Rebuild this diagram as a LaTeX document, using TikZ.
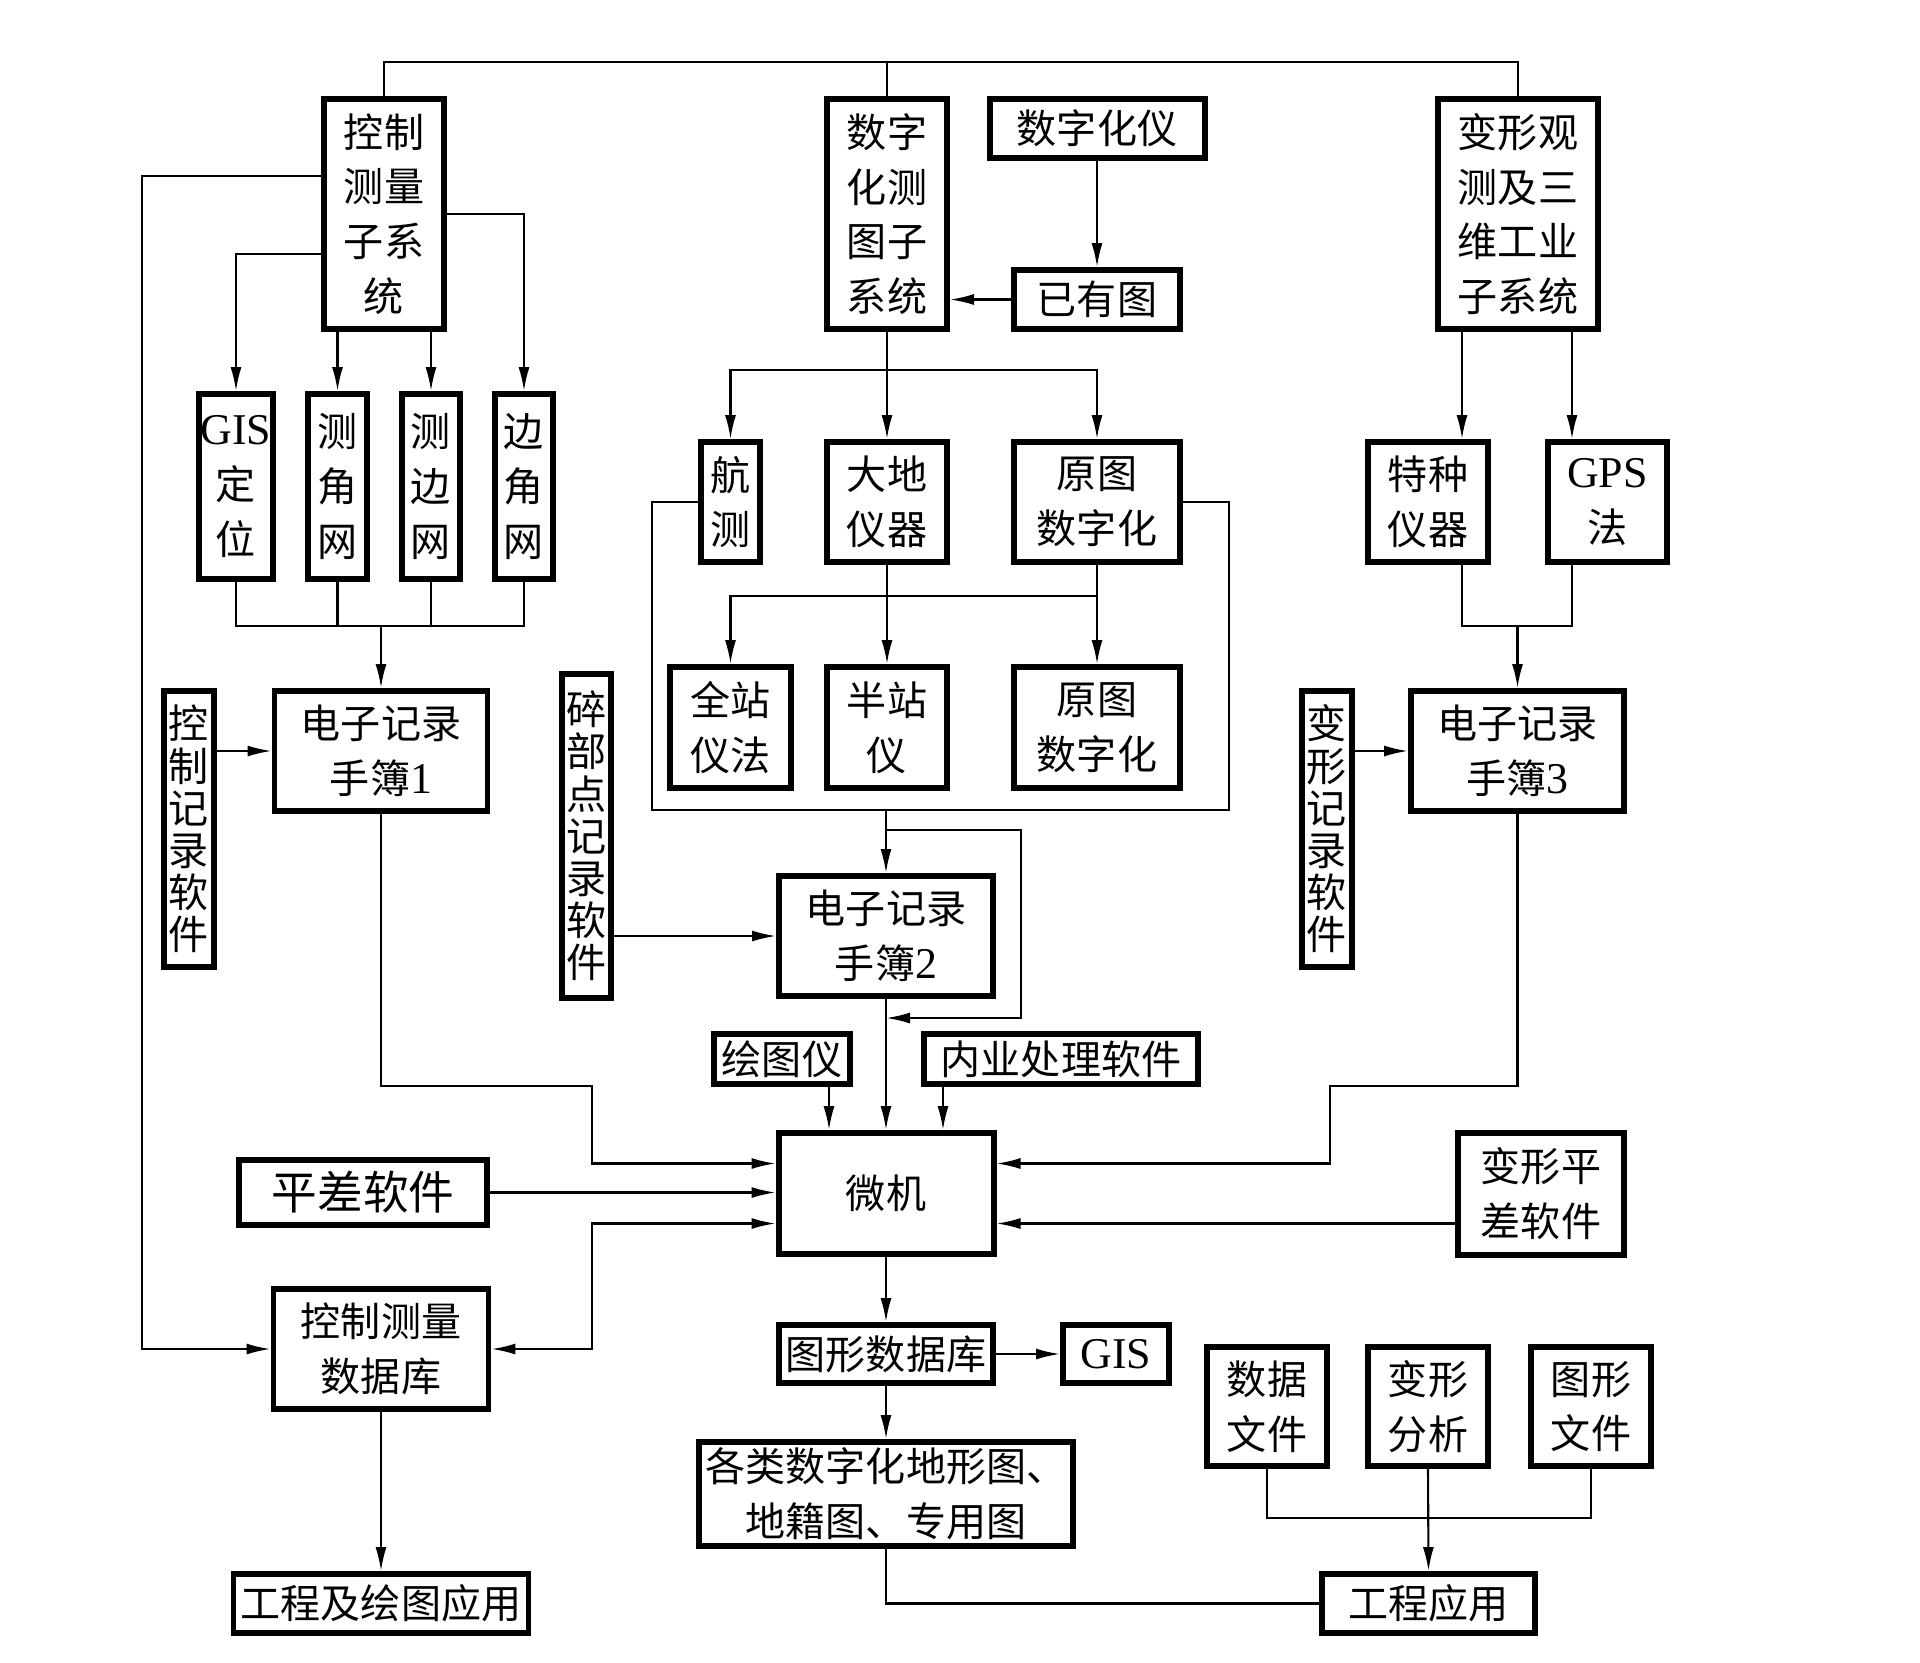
\documentclass[tikz,border=0pt]{standalone}
\usepackage{fontspec}
\setmainfont{Liberation Serif}
\newfontfamily\cjk{Noto Sans CJK SC}
\usepackage{tikz}
\usetikzlibrary{arrows.meta,positioning}
\newcommand{\latn}[1]{{\rmfamily\fontsize{12.5}{15.6}\selectfont #1}}

\begin{document}
\begin{tikzpicture}[
    box/.style={draw, line width=1.7pt, inner sep=0pt, align=center, font=\cjk\fontsize{11.4}{15.6}\selectfont},
    strip/.style={box, font=\cjk\fontsize{11.4}{12}\selectfont},
    wire/.style={line width=0.6pt},
    flow/.style={wire, -{Latex[length=2.4mm,width=1.1mm]}},
    both/.style={wire, {Latex[length=2.4mm,width=1.1mm]}-{Latex[length=2.4mm,width=1.1mm]}}
  ]
    \useasboundingbox (0,0) rectangle (19.2,-16.62);

    \node [box, minimum width=1.2cm, minimum height=2.3cm] (ctrl) at (3.84,-2.14) {控制\\测量\\子系\\统};
    \node [box, minimum width=1.2cm, minimum height=2.3cm] (digi) at (8.87,-2.14) {数字\\化测\\图子\\系统};
    \node [box, minimum width=2.15cm, minimum height=0.59cm] (digitizer) at (10.97,-1.285) {数字化仪};
    \node [box, minimum width=1.66cm, minimum height=0.59cm] (oldmap) at (10.97,-2.995) {已有图};
    \node [box, minimum width=1.6cm, minimum height=2.3cm] (deform) at (15.18,-2.14) {变形观\\测及三\\维工业\\子系统};

    \node [box, minimum width=0.74cm, minimum height=1.85cm] (gisloc) at (2.36,-4.865) {\latn{GIS}\\定\\位};
    \node [box, minimum width=0.59cm, minimum height=1.85cm] (angnet) at (3.375,-4.865) {测\\角\\网};
    \node [box, minimum width=0.58cm, minimum height=1.85cm] (distnet) at (4.31,-4.865) {测\\边\\网};
    \node [box, minimum width=0.58cm, minimum height=1.85cm] (bothnet) at (5.24,-4.865) {边\\角\\网};

    \node [box, minimum width=0.59cm, minimum height=1.2cm] (aerial) at (7.305,-5.02) {航\\测};
    \node [box, minimum width=1.2cm, minimum height=1.2cm] (geodetic) at (8.87,-5.02) {大地\\仪器};
    \node [box, minimum width=1.66cm, minimum height=1.2cm] (orig1) at (10.97,-5.02) {原图\\数字化};
    \node [box, minimum width=1.2cm, minimum height=1.2cm] (special) at (14.28,-5.02) {特种\\仪器};
    \node [box, minimum width=1.19cm, minimum height=1.2cm] (gps) at (16.075,-5.02) {\latn{GPS}\\法};

    \node [box, minimum width=1.21cm, minimum height=1.21cm] (total) at (7.305,-7.275) {全站\\仪法};
    \node [box, minimum width=1.2cm, minimum height=1.21cm] (semi) at (8.87,-7.275) {半站\\仪};
    \node [box, minimum width=1.66cm, minimum height=1.21cm] (orig2) at (10.97,-7.275) {原图\\数字化};

    \node [strip, minimum width=0.5cm, minimum height=2.76cm] (ctrlsw) at (1.89,-8.29) {控\\制\\记\\录\\软\\件};
    \node [box, minimum width=2.13cm, minimum height=1.2cm] (book1) at (3.81,-7.51) {电子记录\\手簿\latn{1}};
    \node [strip, minimum width=0.49cm, minimum height=3.24cm] (detailsw) at (5.865,-8.36) {碎\\部\\点\\记\\录\\软\\件};
    \node [box, minimum width=2.14cm, minimum height=1.2cm] (book2) at (8.86,-9.36) {电子记录\\手簿\latn{2}};
    \node [strip, minimum width=0.5cm, minimum height=2.76cm] (deformsw) at (13.27,-8.29) {变\\形\\记\\录\\软\\件};
    \node [box, minimum width=2.13cm, minimum height=1.2cm] (book3) at (15.175,-7.51) {电子记录\\手簿\latn{3}};

    \node [box, minimum width=1.36cm, minimum height=0.5cm] (plotter) at (7.82,-10.59) {绘图仪};
    \node [box, minimum width=2.74cm, minimum height=0.5cm] (officesw) at (10.61,-10.59) {内业处理软件};
    \node [box, minimum width=2.15cm, minimum height=1.21cm] (pc) at (8.86,-11.935) {微机};
    \node [box, minimum width=2.48cm, minimum height=0.65cm, font=\cjk\fontsize{13}{15.6}\selectfont] (adjsw) at (3.63,-11.925) {平差软件};
    \node [box, minimum width=1.66cm, minimum height=1.22cm] (defadj) at (15.41,-11.94) {变形平\\差软件};

    \node [box, minimum width=2.15cm, minimum height=1.2cm] (ctrldb) at (3.81,-13.49) {控制测量\\数据库};
    \node [box, minimum width=2.14cm, minimum height=0.58cm] (graphdb) at (8.86,-13.54) {图形数据库};
    \node [box, minimum width=1.06cm, minimum height=0.58cm, right=0.64cm of graphdb] (gis) {\latn{GIS}};
    \node [box, minimum width=3.74cm, minimum height=1.04cm] (maps) at (8.86,-14.94) {各类数字化地形图、\\地籍图、专用图};
    \node [box, minimum width=1.2cm, minimum height=1.19cm] (datafile) at (12.67,-14.065) {数据\\文件};
    \node [box, minimum width=1.2cm, minimum height=1.19cm] (defana) at (14.28,-14.065) {变形\\分析};
    \node [box, minimum width=1.2cm, minimum height=1.19cm] (graphfile) at (15.91,-14.065) {图形\\文件};
    \node [box, minimum width=2.95cm, minimum height=0.59cm] (engapp1) at (3.81,-16.035) {工程及绘图应用};
    \node [box, minimum width=2.13cm, minimum height=0.59cm] (engapp2) at (14.285,-16.035) {工程应用};

    % buses and turning points
    \coordinate (topbus) at (0,-0.62);
    \coordinate (netbus) at (0,-6.26);
    \coordinate (digibus) at (0,-3.70);
    \coordinate (rowbus) at (0,-5.96);
    \coordinate (filebus) at (0,-15.18);
    \coordinate (leftbus) at (1.42,0);
    \coordinate (loopl) at (6.52,-8.10);
    \coordinate (loopr) at (12.29,-8.10);
    \coordinate (fbtop) at (10.21,-8.30);
    \coordinate (fbbot) at (10.21,-10.18);
    \coordinate (xs) at (14.62,0);
    \coordinate (xg) at (15.72,0);
    \coordinate (b1turn) at (5.92,-10.86);
    \coordinate (b3turn) at (13.30,-10.86);
    \coordinate (dbturn) at (5.92,0);
    \coordinate (pcwu) at ([yshift=0.3cm]pc.west);
    \coordinate (pcwd) at ([yshift=-0.3cm]pc.west);
    \coordinate (pceu) at ([yshift=0.3cm]pc.east);
    \coordinate (pced) at ([yshift=-0.3cm]pc.east);
    \coordinate (plotin) at ([xshift=0.47cm]plotter.south);
    \coordinate (softin) at ([xshift=-1.18cm]officesw.south);

    \draw [wire] (ctrl.north) |- (topbus -| deform.north) -- (deform.north);
    \draw [wire] (digi.north) -- (digi.north |- topbus);

    \draw [flow] ([yshift=-0.4cm]ctrl.west) -| (gisloc.north);
    \draw [flow] (ctrl.south -| angnet) -- (angnet.north);
    \draw [flow] (ctrl.south -| distnet) -- (distnet.north);
    \draw [flow] (ctrl.east) -| (bothnet.north);
    \draw [wire] (gisloc.south) |- (netbus -| bothnet) -- (bothnet.south);
    \draw [wire] (angnet.south) -- (angnet.south |- netbus);
    \draw [wire] (distnet.south) -- (distnet.south |- netbus);
    \draw [flow] (book1.north |- netbus) -- (book1.north);
    \draw [flow] (ctrlsw.east |- book1.west) -- (book1.west);
    \draw [flow] ([yshift=0.38cm]ctrl.west) -| (leftbus |- ctrldb.west) -- (ctrldb.west);

    \draw [flow] (digitizer.south) -- (oldmap.north);
    \draw [flow] (oldmap.west) -- (oldmap.west -| digi.east);
    \draw [flow] (digi.south) -- (geodetic.north);
    \draw [flow] (digi.south |- digibus) -| (aerial.north);
    \draw [flow] (digi.south |- digibus) -| (orig1.north);
    \draw [flow] (geodetic.south) -- (semi.north);
    \draw [flow] (orig1.south) -- (orig2.north);
    \draw [flow] (orig1.south |- rowbus) -| (total.north);
    \draw [wire] (aerial.west) -| (loopl) -- (loopr) |- (orig1.east);
    \draw [flow] (book2.north |- loopl) -- (book2.north);
    \draw [flow] (book2.north |- fbtop) -- (fbtop) -- (fbbot) -- (fbbot -| book2.south);
    \draw [flow] (detailsw.east |- book2.west) -- (book2.west);

    \draw [flow] (deform.south -| xs) -- (special.north -| xs);
    \draw [flow] (deform.south -| xg) -- (gps.north -| xg);
    \draw [wire] (special.south -| xs) |- (netbus -| xg) -- (gps.south -| xg);
    \draw [flow] (book3.north |- netbus) -- (book3.north);
    \draw [flow] (deformsw.east |- book3.west) -- (book3.west);

    \draw [flow] (book2.south) -- (pc.north);
    \draw [flow] (plotin) -- (plotin |- pc.north);
    \draw [flow] (softin) -- (softin |- pc.north);
    \draw [flow] (book1.south) |- (b1turn) |- (pcwu);
    \draw [flow] (adjsw.east) -- (adjsw.east -| pc.west);
    \draw [both] (pcwd) -| (dbturn |- ctrldb.east) -- (ctrldb.east);
    \draw [flow] (book3.south) |- (b3turn) |- (pceu);
    \draw [flow] (defadj.west |- pced) -- (pced);

    \draw [flow] (pc.south) -- (graphdb.north);
    \draw [flow] (graphdb.east) -- (gis.west);
    \draw [flow] (graphdb.south) -- (maps.north);
    \draw [wire] (maps.south) |- (engapp2.west);
    \draw [wire] (datafile.south) |- (filebus -| graphfile) -- (graphfile.south);
    \draw [flow] (defana.south) -- (engapp2.north);
    \draw [flow] (ctrldb.south) -- (engapp1.north);
\end{tikzpicture}
\end{document}
